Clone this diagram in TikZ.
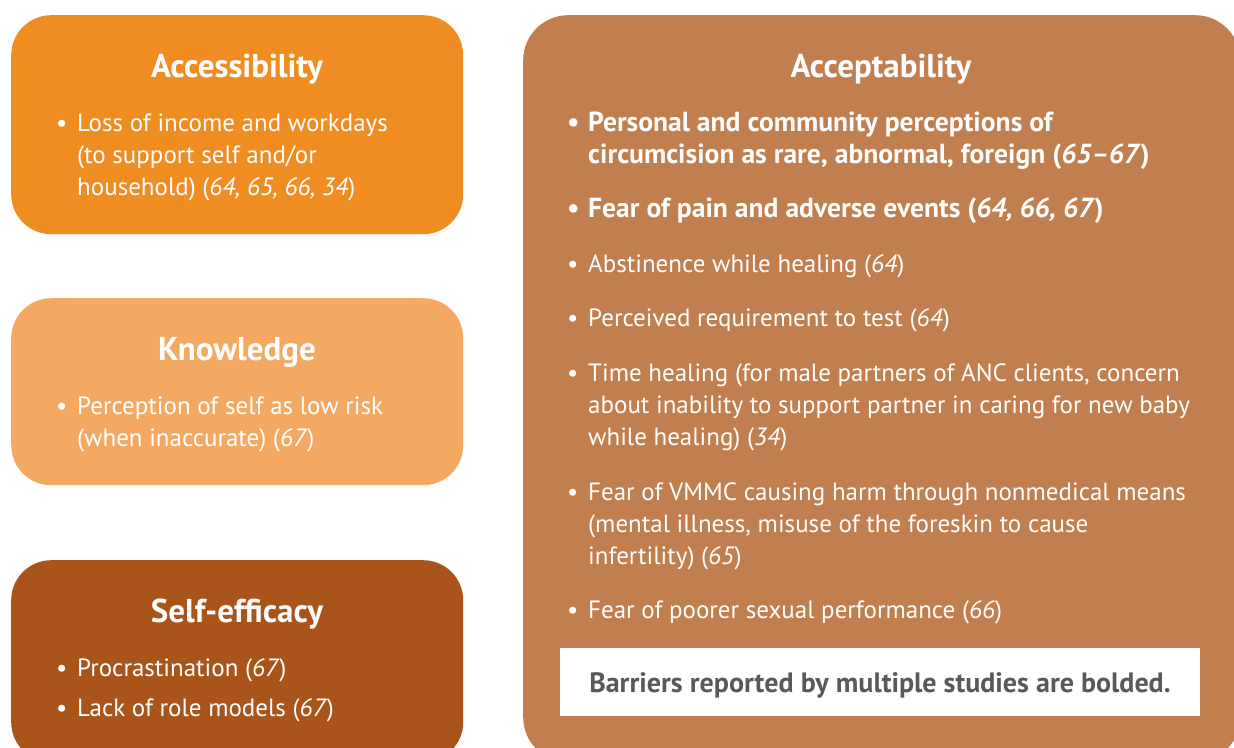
\documentclass[tikz,border=0pt]{standalone}
\usepackage{fontspec}
\setmainfont{PT Sans}
\usetikzlibrary{positioning}

\definecolor{accesscol}{HTML}{EF8C22}
\definecolor{knowcol}{HTML}{F3A961}
\definecolor{effcol}{HTML}{A9541B}
\definecolor{acceptcol}{HTML}{C17E4E}
\definecolor{notecol}{HTML}{58595B}

% bullet with hanging text, and the italic study numbers
\newcommand{\bul}[1]{\makebox[21pt][l]{\textbullet}\parbox[t]{640pt}{\raggedright #1}}
\newcommand{\studies}[1]{(\textit{#1})}

\tikzset{
  panel/.style={rounded corners=40pt, inner sep=0pt, anchor=north west},
  heading/.style={text=white, font=\fontsize{33}{38}\selectfont\bfseries, anchor=base, inner sep=0pt},
  barrier/.style={text=white, font=\fontsize{25}{32}\selectfont, anchor=base west, inner sep=0pt},
  strongbarrier/.style={barrier, font=\fontsize{27.6}{32}\selectfont\bfseries},
}

\begin{document}
\begin{tikzpicture}[x=1pt,y=-1pt]
  \useasboundingbox (0,0) rectangle (1234,747);
  \clip (0,0) rectangle (1234,747);

  % left column
  \node[panel, fill=accesscol, minimum width=452pt, minimum height=219pt] (access) at (11,15) {};
  \node[panel, fill=knowcol, minimum width=452pt, minimum height=187pt] (know) at (11,298) {};
  \node[panel, fill=effcol, minimum width=452pt, minimum height=202pt] (selfeff) at (11,560) {};

  \node[heading] (accesstitle) at (237,77) {Accessibility};
  \node[barrier] (access1) at (56,131) {\bul{Loss of income and workdays\\(to support self and/or\\household) \studies{64, 65, 66, 34}}};

  \node[heading] (knowtitle) at (237,360) {Knowledge};
  \node[barrier] (know1) at (56,414) {\bul{Perception of self as low risk\\(when inaccurate) \studies{67}}};

  \node[heading] (efftitle) at (237,622) {Self-efficacy};
  \node[barrier] (eff1) at (56,676) {\bul{Procrastination \studies{67}}};
  \node[barrier] (eff2) at (56,716) {\bul{Lack of role models \studies{67}}};

  % right column
  \node[panel, fill=acceptcol, rounded corners=45pt, minimum width=717pt, minimum height=747pt] (accept) at (523,15) {};
  \node[heading] (accepttitle) at (881,77) {Acceptability};
  \node[strongbarrier] (accept1) at (567,131) {\bul{Personal and community perceptions of\\circumcision as rare, abnormal, foreign \studies{65--67}}};
  \node[strongbarrier] (accept2) at (567,217) {\bul{Fear of pain and adverse events \studies{64, 66, 67}}};
  \node[barrier] (accept3) at (567,272) {\bul{Abstinence while healing \studies{64}}};
  \node[barrier] (accept4) at (567,326) {\bul{Perceived requirement to test \studies{64}}};
  \node[barrier] (accept5) at (567,381) {\bul{Time healing (for male partners of ANC clients, concern\\about inability to support partner in caring for new baby\\while healing) \studies{34}}};
  \node[barrier] (accept6) at (567,500) {\bul{Fear of VMMC causing harm through nonmedical means\\(mental illness, misuse of the foreskin to cause\\infertility) \studies{65}}};
  \node[barrier] (accept7) at (567,618) {\bul{Fear of poorer sexual performance \studies{66}}};

  \node[fill=white, inner sep=0pt, anchor=north west, minimum width=640pt, minimum height=68pt] (note) at (560,648) {};
  \node[text=notecol, font=\fontsize{28}{32}\selectfont\bfseries, anchor=base, inner sep=0pt] (notetext) at (880,692) {Barriers reported by multiple studies are bolded.};
\end{tikzpicture}
\end{document}
